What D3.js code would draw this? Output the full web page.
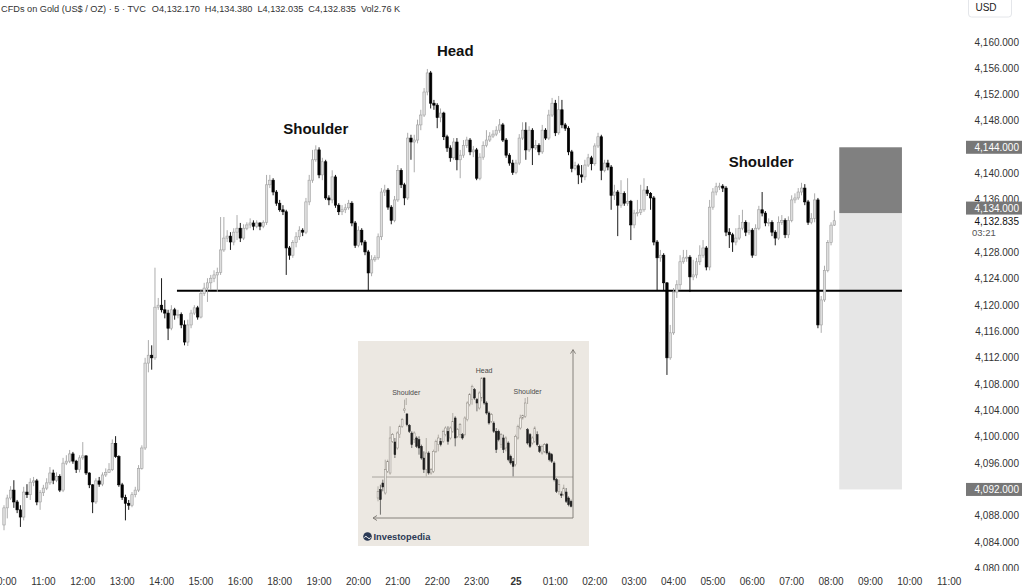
<!DOCTYPE html>
<html><head><meta charset="utf-8">
<script src="https://cdn.jsdelivr.net/npm/d3@7"></script>
<style>html,body{margin:0;padding:0;background:#fff;overflow:hidden}svg{display:block}</style>
</head><body>
<svg id="c" width="1024" height="588"></svg>
<script>
// ---------------- DATA ----------------
const headerName = "CFDs on Gold (US$ / OZ) · 5 · TVC";
const headerFields = ["O4,132.170", "H4,134.380", "L4,132.035", "C4,132.835", "Vol2.76 K"];
const timeLabels = ["10:00","11:00","12:00","13:00","14:00","15:00","16:00","18:00","19:00","20:00","21:00","22:00","23:00","25","01:00","02:00","03:00","04:00","05:00","06:00","07:00","08:00","09:00","10:00","11:00"];
const timeIndex  = [0,12,24,36,48,60,72,84,96,108,120,132,144,156,168,180,192,204,216,228,240,252,264,276,288];
const priceTicks = [4160,4156,4152,4148,4144,4140,4136,4128,4124,4120,4116,4112,4108,4104,4100,4096,4092,4088,4084,4080];
// 5-minute candles [open, high, low, close]
const goldOHLC = [
[4086.6,4089.6,4085.8,4089.2],[4089.2,4091.2,4087.6,4090.7],[4090.7,4092.5,4090.4,4091.9],[4091.9,4093.4,4089.2,4090.1],
[4090.1,4090.4,4088.4,4088.9],[4088.9,4089.6,4086.3,4087.8],[4087.8,4092.4,4087.3,4091.6],[4091.6,4092.8,4090.7,4091.2],
[4091.2,4093.7,4090.4,4093.1],[4093.1,4093.9,4092.5,4093.3],[4093.3,4093.6,4089.6,4090.1],[4090.1,4091.9,4088.9,4091.5],
[4091.5,4092.7,4091.0,4092.2],[4092.2,4093.7,4091.9,4093.0],[4093.0,4095.4,4092.7,4094.5],[4094.5,4095.0,4092.8,4093.4],
[4093.4,4094.6,4093.1,4094.0],[4094.0,4094.3,4091.6,4091.9],[4091.9,4096.8,4091.6,4096.0],[4096.0,4097.2,4095.7,4096.3],
[4096.3,4098.0,4096.0,4097.4],[4097.4,4097.7,4095.9,4096.3],[4096.3,4096.5,4094.5,4095.0],[4095.0,4097.2,4094.6,4096.8],
[4096.8,4099.2,4096.5,4097.1],[4097.1,4097.2,4094.2,4094.5],[4094.5,4094.6,4092.2,4092.7],[4092.7,4092.8,4088.4,4090.1],
[4090.1,4093.7,4089.8,4093.3],[4093.3,4093.9,4092.4,4092.8],[4092.8,4094.6,4092.5,4094.2],[4094.2,4095.2,4093.9,4094.6],
[4094.6,4096.0,4094.5,4095.0],[4095.0,4099.6,4094.8,4099.0],[4099.0,4100.1,4096.8,4097.0],[4097.0,4097.2,4092.4,4092.7],
[4092.7,4093.0,4090.4,4090.8],[4090.8,4091.2,4087.3,4089.9],[4089.9,4090.4,4088.9,4089.6],[4089.6,4091.6,4089.3,4091.2],
[4091.2,4092.4,4090.8,4091.9],[4091.9,4095.7,4091.6,4095.2],[4095.2,4098.7,4095.0,4098.3],[4098.3,4112.0,4098.0,4111.2],
[4111.2,4114.7,4109.8,4112.4],[4112.4,4113.9,4110.2,4112.0],[4112.0,4125.7,4111.7,4119.7],[4119.7,4121.1,4119.3,4120.0],
[4120.0,4124.1,4118.9,4119.3],[4119.3,4120.8,4118.0,4118.8],[4118.8,4119.3,4114.7,4116.5],[4116.5,4120.0,4116.2,4119.3],
[4119.3,4119.6,4117.8,4118.5],[4118.5,4119.3,4118.0,4118.6],[4118.6,4118.9,4116.5,4117.0],[4117.0,4117.7,4113.9,4114.4],
[4114.4,4117.8,4113.8,4117.0],[4117.0,4119.3,4116.5,4118.8],[4118.8,4120.0,4118.5,4119.6],[4119.6,4119.9,4117.8,4118.2],
[4118.2,4122.3,4118.0,4121.8],[4121.8,4123.4,4121.4,4122.6],[4122.6,4124.1,4120.5,4123.4],[4123.4,4124.6,4122.3,4124.1],
[4124.1,4125.3,4123.5,4124.6],[4124.6,4125.7,4122.0,4125.0],[4125.0,4133.4,4124.6,4128.4],[4128.4,4133.4,4128.1,4130.2],
[4130.2,4131.4,4129.6,4130.5],[4130.5,4131.1,4128.4,4129.6],[4129.6,4131.7,4129.1,4131.1],[4131.1,4133.7,4129.9,4131.7],
[4131.7,4132.5,4129.6,4130.2],[4130.2,4132.3,4129.9,4131.7],[4131.7,4132.6,4131.4,4132.2],[4132.2,4133.2,4131.7,4132.5],
[4132.5,4132.9,4131.4,4132.0],[4132.0,4132.9,4131.7,4132.5],[4132.5,4132.6,4131.4,4132.0],[4132.0,4132.9,4131.7,4132.6],
[4132.6,4139.8,4132.2,4138.3],[4138.3,4139.8,4137.8,4139.0],[4139.0,4139.3,4136.7,4137.2],[4137.2,4137.5,4135.1,4135.5],
[4135.5,4136.0,4134.2,4134.5],[4134.5,4135.2,4133.7,4134.2],[4134.2,4134.5,4124.6,4128.7],[4128.7,4129.0,4126.9,4127.6],
[4127.6,4129.9,4127.2,4129.5],[4129.5,4131.1,4128.8,4130.4],[4130.4,4132.0,4129.9,4131.4],[4131.4,4131.7,4130.5,4131.1],
[4131.1,4136.3,4130.8,4135.7],[4135.7,4139.8,4135.2,4139.0],[4139.0,4143.6,4138.6,4142.1],[4142.1,4144.3,4141.8,4143.6],
[4143.6,4144.0,4139.3,4139.8],[4139.8,4142.4,4139.0,4141.8],[4141.8,4142.1,4136.0,4136.3],[4136.3,4136.7,4135.2,4136.0],
[4136.0,4140.5,4135.5,4139.5],[4139.5,4139.8,4134.8,4135.2],[4135.2,4135.5,4133.7,4134.2],[4134.2,4135.2,4133.7,4134.5],
[4134.5,4135.4,4134.0,4134.8],[4134.8,4136.0,4134.5,4135.5],[4135.5,4135.8,4132.0,4132.5],[4132.5,4132.8,4128.7,4129.1],
[4129.1,4132.0,4128.8,4131.4],[4131.4,4131.7,4129.1,4129.6],[4129.6,4129.9,4127.6,4128.1],[4128.1,4128.4,4122.3,4124.9],
[4124.9,4127.6,4124.4,4126.9],[4126.9,4127.6,4126.6,4127.2],[4127.2,4130.9,4126.9,4130.4],[4130.4,4137.8,4129.9,4137.2],
[4137.2,4138.3,4136.6,4137.5],[4137.5,4137.8,4134.5,4134.9],[4134.9,4135.2,4132.3,4132.9],[4132.9,4136.6,4132.6,4136.0],
[4136.0,4141.3,4135.7,4140.5],[4140.5,4140.8,4137.8,4138.3],[4138.3,4138.6,4135.2,4136.3],[4136.3,4146.2,4136.0,4145.4],
[4145.4,4145.9,4142.1,4144.8],[4144.8,4145.9,4140.2,4145.1],[4145.1,4148.2,4144.6,4147.4],[4147.4,4149.7,4146.6,4148.9],
[4148.9,4153.0,4148.6,4152.4],[4152.4,4155.9,4151.9,4155.3],[4155.3,4155.6,4149.9,4150.7],[4150.7,4151.2,4149.7,4150.4],
[4150.4,4150.7,4146.9,4148.5],[4148.5,4149.9,4147.8,4149.2],[4149.2,4149.4,4145.1,4145.6],[4145.6,4145.9,4143.3,4143.9],
[4143.9,4144.3,4141.8,4142.4],[4142.4,4145.4,4142.1,4144.8],[4144.8,4145.4,4140.5,4142.1],[4142.1,4143.6,4139.3,4142.8],
[4142.8,4145.1,4142.4,4144.3],[4144.3,4145.6,4143.9,4145.1],[4145.1,4145.4,4142.8,4143.3],[4143.3,4144.2,4142.5,4143.6],
[4143.6,4143.9,4139.0,4139.3],[4139.3,4143.1,4139.0,4142.5],[4142.5,4144.9,4142.1,4144.3],[4144.3,4146.6,4144.0,4145.1],
[4145.1,4146.3,4144.8,4145.7],[4145.7,4146.6,4145.4,4146.0],[4146.0,4147.2,4145.7,4146.6],[4146.6,4148.3,4146.2,4147.4],
[4147.4,4147.7,4144.8,4145.1],[4145.1,4145.4,4142.4,4142.8],[4142.8,4143.1,4141.2,4141.6],[4141.6,4142.1,4139.8,4140.2],
[4140.2,4142.1,4139.9,4141.6],[4141.6,4146.0,4141.3,4145.4],[4145.4,4147.8,4145.1,4146.6],[4146.6,4147.8,4142.1,4143.6],
[4143.6,4147.2,4143.3,4146.6],[4146.6,4146.9,4141.3,4143.9],[4143.9,4145.1,4143.6,4144.3],[4144.3,4144.6,4142.8,4143.3],
[4143.3,4147.4,4143.0,4146.6],[4146.6,4146.9,4145.1,4145.4],[4145.4,4149.7,4145.1,4148.9],[4148.9,4151.5,4148.6,4150.7],
[4150.7,4151.2,4145.7,4146.2],[4146.2,4151.8,4145.9,4149.7],[4149.7,4151.2,4146.9,4147.4],[4147.4,4147.7,4146.5,4146.9],
[4146.9,4147.2,4142.8,4143.3],[4143.3,4143.6,4140.2,4140.8],[4140.8,4141.8,4140.5,4141.2],[4141.2,4141.5,4138.4,4139.8],
[4139.8,4141.3,4138.6,4139.5],[4139.5,4142.1,4139.0,4141.3],[4141.3,4143.0,4141.0,4142.4],[4142.4,4142.7,4140.5,4141.5],
[4141.5,4144.6,4141.2,4144.2],[4144.2,4146.2,4143.9,4145.6],[4145.6,4145.9,4139.0,4140.5],[4140.5,4142.1,4140.2,4141.6],
[4141.6,4142.1,4140.5,4141.0],[4141.0,4141.3,4134.5,4136.7],[4136.7,4138.3,4136.0,4137.2],[4137.2,4137.5,4130.5,4135.2],
[4135.2,4139.0,4134.8,4137.0],[4137.0,4137.3,4135.1,4135.5],[4135.5,4139.3,4135.1,4135.8],[4135.8,4136.0,4129.9,4132.2],
[4132.2,4134.5,4131.7,4134.0],[4134.0,4136.0,4133.5,4134.1],[4134.1,4138.3,4133.7,4134.5],[4134.5,4139.3,4134.2,4137.5],
[4137.5,4138.1,4136.6,4137.0],[4137.0,4137.2,4134.5,4136.3],[4136.3,4136.6,4129.1,4129.6],[4129.6,4129.9,4122.3,4127.2],
[4127.2,4128.4,4126.6,4127.6],[4127.6,4127.9,4122.3,4123.4],[4123.4,4123.5,4109.4,4112.0],[4112.0,4117.0,4111.7,4115.8],
[4115.8,4122.6,4115.5,4122.0],[4122.0,4123.8,4121.1,4123.1],[4123.1,4127.6,4122.3,4126.6],[4126.6,4128.4,4126.3,4127.2],
[4127.2,4128.4,4126.6,4127.3],[4127.3,4127.6,4122.0,4124.3],[4124.3,4126.9,4123.8,4124.6],[4124.6,4127.2,4124.1,4126.6],
[4126.6,4129.1,4126.1,4127.6],[4127.6,4129.9,4127.2,4128.7],[4128.7,4129.0,4125.3,4125.8],[4125.8,4136.0,4125.3,4134.9],
[4134.9,4137.8,4134.5,4137.2],[4137.2,4138.6,4136.7,4138.0],[4138.0,4138.6,4137.5,4138.1],[4138.1,4138.4,4137.2,4137.8],
[4137.8,4138.1,4130.5,4131.1],[4131.1,4131.7,4128.7,4130.7],[4130.7,4131.0,4128.1,4129.6],[4129.6,4131.7,4129.1,4130.2],
[4130.2,4133.7,4129.9,4131.7],[4131.7,4134.5,4131.4,4132.6],[4132.6,4132.9,4130.5,4131.1],[4131.1,4132.6,4130.7,4131.4],
[4131.4,4131.7,4127.2,4127.6],[4127.6,4132.3,4127.5,4131.7],[4131.7,4135.1,4131.4,4134.5],[4134.5,4137.2,4133.5,4134.0],
[4134.0,4134.3,4132.0,4132.5],[4132.5,4133.2,4132.0,4132.6],[4132.6,4132.9,4130.5,4131.1],[4131.1,4131.4,4129.1,4130.2],
[4130.2,4133.5,4129.9,4132.6],[4132.6,4133.7,4132.2,4132.9],[4132.9,4133.2,4130.2,4130.7],[4130.7,4133.5,4130.2,4132.9],
[4132.9,4136.7,4132.6,4136.0],[4136.0,4137.0,4135.5,4136.3],[4136.3,4137.8,4136.0,4137.2],[4137.2,4138.6,4136.7,4137.8],
[4137.8,4138.4,4135.2,4135.7],[4135.7,4136.0,4132.2,4132.6],[4132.6,4134.0,4132.3,4133.2],[4133.2,4137.0,4132.6,4136.0],
[4136.0,4136.3,4116.5,4117.0],[4117.0,4121.4,4115.8,4120.8],[4120.8,4126.0,4120.5,4125.3],[4125.3,4129.9,4125.0,4129.5],
[4129.5,4132.6,4129.1,4132.17],[4132.17,4134.38,4132.035,4132.835]
];
const necklinePrice = [4122.2];
const necklineSpan  = [52.7, 273.6];       // candle-index units
const zoneSpan      = [254.5, 273.6];      // candle-index units
const zoneLevels    = [4144, 4134, 4092];  // stop, entry, target
const badgeLevels   = [4144, 4134, 4092];
const lastPrice     = [4132.835];
const countdown     = ["03:21"];
const annoText  = ["Shoulder", "Head", "Shoulder"];
const annoIndex = [95, 137.5, 230.7];
const annoPrice = [4146.0, 4157.9, 4141.0];

// inset (Investopedia illustration), arbitrary units
const insetOHLC = [
[120,155,110,140],[145,160,70,115],[165,175,140,153],[135,235,130,205],[200,235,195,230],[195,335,190,300],
[290,315,285,310],[288,300,240,250],[270,320,265,315],[310,340,300,335],[335,360,330,355],[382,415,375,387],
[372,375,335,340],[338,342,315,320],[315,320,270,280],[295,320,285,315],[300,305,270,275],[295,305,250,270],
[275,280,235,240],[240,260,195,205],[205,300,185,255],[255,260,190,195],[195,210,190,205],[200,265,195,260],
[260,295,255,290],[280,310,260,300],[290,300,275,280],[290,325,285,320],[310,335,305,330],[320,335,280,290],
[300,335,295,330],[320,375,315,350],[360,365,275,300],[305,330,300,325],[310,345,300,340],[310,315,295,300],
[310,365,305,360],[355,410,350,405],[400,435,395,430],[415,460,400,455],[445,450,415,420],[415,420,380,405],
[390,440,385,435],[420,482,410,480],[480,482,400,405],[405,410,370,375],[375,380,340,345],[350,375,345,370],
[345,350,315,320],[320,330,255,265],[320,325,290,295],[280,315,270,310],[300,310,255,265],[270,305,260,300],
[285,290,230,235],[245,250,220,225],[230,240,185,215],[220,310,215,305],[300,340,295,335],[330,370,325,360],
[360,370,355,368],[365,420,360,405],[325,330,280,285],[310,315,270,275],[285,305,280,300],[290,335,285,330],
[310,320,275,280],[275,280,255,260],[255,280,250,275],[260,285,255,280],[280,285,250,255],[255,260,230,235],
[250,255,225,230],[225,230,170,175],[175,180,135,140],[140,175,130,160],[132,140,120,128],[130,160,125,150],
[138,150,105,110],[120,125,95,100],[110,115,92,95]
];
const insetNeck   = [183];
const insetAxis   = [565, 60];   // top of vertical axis, level of horizontal axis
const insetText   = ["Shoulder", "Head", "Shoulder"];
const insetTextIx = [11.7, 44, 62];
const insetTextV  = [429, 495, 432];
const insetBrand  = ["Investopedia"];

// ---------------- DRAW ----------------
const svg = d3.select("#c");
const FONT = "'Liberation Sans', Arial, sans-serif";
const x = d3.scaleLinear().domain([0, 288]).range([4, 949.2]);
const y = d3.scaleLinear().domain([4080, 4160]).range([568.4, 42]);

// target zone
const zone = svg.append("g");
zone.append("rect").attr("x", x(zoneSpan[0])).attr("width", x(zoneSpan[1]) - x(zoneSpan[0]))
  .attr("y", y(zoneLevels[1])).attr("height", y(zoneLevels[2]) - y(zoneLevels[1])).attr("fill", "#e6e6e6");
zone.append("rect").attr("x", x(zoneSpan[0])).attr("width", x(zoneSpan[1]) - x(zoneSpan[0]))
  .attr("y", y(zoneLevels[0])).attr("height", y(zoneLevels[1]) - y(zoneLevels[0])).attr("fill", "#808080");

// inset
const ix = d3.scaleLinear().domain([0, insetOHLC.length - 1]).range([378, 571]);
const iy = d3.scaleLinear().domain([0, 600]).range([538, 338]);
const ins = svg.append("g");
ins.append("rect").attr("x", 358).attr("y", 341).attr("width", 231).attr("height", 205).attr("fill", "#ece8e2");
ins.append("line").attr("x1", 372).attr("x2", ix(insetOHLC.length - 1) + 2).attr("y1", iy(insetNeck[0])).attr("y2", iy(insetNeck[0]))
  .attr("stroke", "#9b968f").attr("stroke-width", 0.8);
const axX = ix(insetOHLC.length - 1) + 2;
ins.append("line").attr("x1", axX).attr("x2", axX).attr("y1", iy(insetAxis[0])).attr("y2", iy(insetAxis[1])).attr("stroke", "#7a7670").attr("stroke-width", 0.9);
ins.append("line").attr("x1", 373).attr("x2", axX).attr("y1", iy(insetAxis[1])).attr("y2", iy(insetAxis[1])).attr("stroke", "#7a7670").attr("stroke-width", 0.9);
ins.append("path").attr("d", `M${axX-2.5},${iy(insetAxis[0])+4}L${axX},${iy(insetAxis[0])}L${axX+2.5},${iy(insetAxis[0])+4}`).attr("fill", "none").attr("stroke", "#7a7670").attr("stroke-width", 0.9);
ins.append("path").attr("d", `M377,${iy(insetAxis[1])-2.5}L373,${iy(insetAxis[1])}L377,${iy(insetAxis[1])+2.5}`).attr("fill", "none").attr("stroke", "#7a7670").attr("stroke-width", 0.9);
const ic = ins.selectAll("g.ic").data(insetOHLC).enter().append("g");
ic.append("line").attr("x1", (d, i) => ix(i)).attr("x2", (d, i) => ix(i))
  .attr("y1", d => iy(d[1])).attr("y2", d => iy(d[2]))
  .attr("stroke", d => d[3] >= d[0] ? "#9a958e" : "#3a3a3a").attr("stroke-width", 0.7);
ic.append("rect").attr("x", (d, i) => ix(i) - 0.9).attr("width", 1.8)
  .attr("y", d => iy(Math.max(d[0], d[3]))).attr("height", d => Math.max(0.8, Math.abs(iy(d[0]) - iy(d[3]))))
  .attr("fill", d => d[3] >= d[0] ? "#f7f4f0" : "#1e1e1e")
  .attr("stroke", d => d[3] >= d[0] ? "#8a857e" : "#1e1e1e").attr("stroke-width", 0.5);
ins.selectAll("text.il").data(insetText).enter().append("text")
  .attr("x", (d, i) => ix(insetTextIx[i])).attr("y", (d, i) => iy(insetTextV[i]))
  .attr("text-anchor", "middle").attr("font-family", FONT).attr("font-size", 7).attr("fill", "#4a4a4a").text(d => d);
[0, 2].forEach(k => {
  ins.append("line").attr("x1", ix(insetTextIx[k])).attr("x2", ix(insetTextIx[k]))
    .attr("y1", iy(insetTextV[k]) + 3).attr("y2", iy(insetTextV[k]) + 10).attr("stroke", "#8a857e").attr("stroke-width", 0.6);
});
ins.append("circle").attr("cx", 367.5).attr("cy", 536.5).attr("r", 4.3).attr("fill", "#2b3a55");
ins.append("path").attr("d", "M364.3,537.5 q1.6,-2.4 3.2,0 q1.6,2.4 3.2,0").attr("fill", "none").attr("stroke", "#fff").attr("stroke-width", 1);
ins.append("text").attr("x", 373.5).attr("y", 540).attr("font-family", FONT).attr("font-size", 9.3).attr("font-weight", "bold")
  .attr("fill", "#2b3a55").text(insetBrand[0]);

// neckline
svg.append("line").attr("x1", x(necklineSpan[0])).attr("x2", x(necklineSpan[1]))
  .attr("y1", y(necklinePrice[0])).attr("y2", y(necklinePrice[0])).attr("stroke", "#000").attr("stroke-width", 2);

// candles
const bw = 2.4;
const cg = svg.append("g");
const cs = cg.selectAll("g").data(goldOHLC).enter().append("g");
cs.append("line").attr("x1", (d, i) => x(i)).attr("x2", (d, i) => x(i))
  .attr("y1", d => y(d[1])).attr("y2", d => y(d[2]))
  .attr("stroke", d => d[3] >= d[0] ? "#a3a3a3" : "#000").attr("stroke-width", 0.9);
cs.append("rect").attr("x", (d, i) => x(i) - bw / 2).attr("width", bw)
  .attr("y", d => y(Math.max(d[0], d[3]))).attr("height", d => Math.max(1, Math.abs(y(d[0]) - y(d[3]))))
  .attr("fill", d => d[3] >= d[0] ? "#dedede" : "#000")
  .attr("stroke", d => d[3] >= d[0] ? "#a0a0a0" : "#000").attr("stroke-width", 0.6);

// annotations
svg.selectAll("text.anno").data(annoText).enter().append("text")
  .attr("x", (d, i) => x(annoIndex[i])).attr("y", (d, i) => y(annoPrice[i]))
  .attr("text-anchor", "middle").attr("font-family", FONT).attr("font-weight", "bold").attr("font-size", 15)
  .attr("fill", "#111").text(d => d);

// header (fields chained left to right)
const hdrG = svg.append("g").attr("font-family", FONT).attr("font-size", 9.2).attr("fill", "#333");
let hxPos = 1;
[headerName].concat(headerFields).forEach((t, i) => {
  const tx = hdrG.append("text").attr("x", hxPos).attr("y", 12).text(t);
  hxPos += tx.node().getComputedTextLength() + (i === 0 ? 6 : 5);
});

// price axis
svg.append("defs").append("clipPath").attr("id", "pclip").append("rect").attr("x", 940).attr("y", 20).attr("width", 84).attr("height", 551);
const pa = svg.append("g").attr("clip-path", "url(#pclip)");
const fmt = d3.format(",.3f");
pa.selectAll("text.pt").data(priceTicks).enter().append("text")
  .attr("x", 1019).attr("y", d => y(d) + 3.5).attr("text-anchor", "end")
  .attr("font-family", FONT).attr("font-size", 10).attr("fill", "#333").text(d => fmt(d));
const badgeShift = [0, -5, 0];
badgeLevels.forEach((v, i) => {
  const cy = y(v) + badgeShift[i];
  pa.append("rect").attr("x", 966).attr("y", cy - 6.5).attr("width", 56).attr("height", 13).attr("fill", "#777");
  pa.append("text").attr("x", 1019).attr("y", cy + 3.5).attr("text-anchor", "end")
    .attr("font-family", FONT).attr("font-size", 10).attr("fill", "#fff").text(fmt(v));
});
pa.append("text").attr("x", 1019).attr("y", y(lastPrice[0]) + 4.5).attr("text-anchor", "end")
  .attr("font-family", FONT).attr("font-size", 10).attr("fill", "#111").text(fmt(lastPrice[0]));
pa.append("text").attr("x", 972).attr("y", y(lastPrice[0]) + 15.5)
  .attr("font-family", FONT).attr("font-size", 9.5).attr("fill", "#555").text(countdown[0]);

// USD box
svg.append("rect").attr("x", 968.5).attr("y", -3).attr("width", 43).attr("height", 20).attr("rx", 3)
  .attr("fill", "#fff").attr("stroke", "#e4e6ea");
svg.append("text").attr("x", 986).attr("y", 11).attr("text-anchor", "middle").attr("font-family", FONT)
  .attr("font-size", 10).attr("fill", "#222").text("USD");

// time axis
svg.selectAll("text.tt").data(timeLabels).enter().append("text")
  .attr("x", (d, i) => x(timeIndex[i])).attr("y", 585).attr("text-anchor", "middle")
  .attr("font-family", FONT).attr("font-size", 10).attr("fill", "#333")
  .attr("font-weight", d => d === "25" ? "bold" : "normal").text(d => d);
</script>
</body></html>
